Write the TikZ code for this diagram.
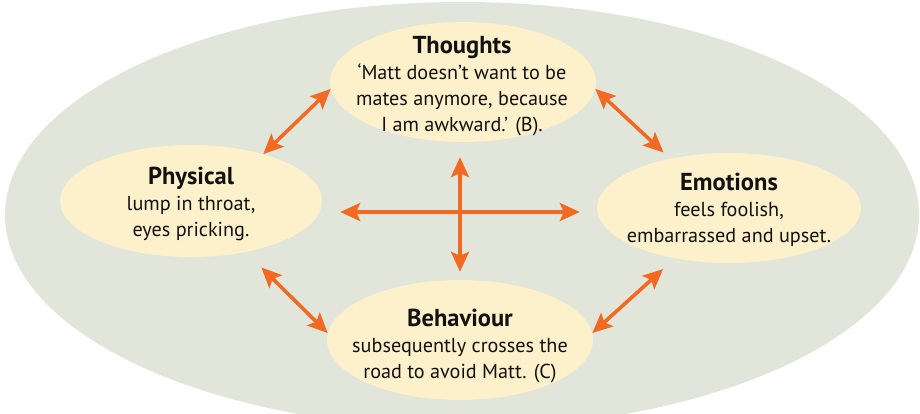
\documentclass[tikz,border=0pt]{standalone}
\usepackage{fontspec}
\setmainfont{PT Sans}
\usetikzlibrary{arrows.meta,shapes.geometric,calc}
\definecolor{bgsage}{HTML}{E1E5DA}
\definecolor{cream}{HTML}{FDF1CC}
\definecolor{arrorange}{HTML}{F26A21}
\definecolor{inkblack}{HTML}{111111}
\newcommand{\ttlfont}{\bfseries\fontsize{24.5}{26}\selectfont}
\begin{document}
\begin{tikzpicture}[x=1pt,y=-1pt,
  bubble/.style={ellipse, fill=cream, inner sep=0pt},
  label/.style={align=center, text=inkblack, inner sep=0pt, font=\fontsize{20.2}{26}\selectfont},
  arr/.style={draw=arrorange, line width=3.6pt,
    {Stealth[length=20pt,width=18pt,inset=4pt]}-{Stealth[length=20pt,width=18pt,inset=4pt]}}]
\useasboundingbox (0,0) rectangle (920,413);
\fill[bgsage] (462,215) ellipse [x radius=457, y radius=213];

\node[bubble, minimum width=266pt, minimum height=120pt] (thoughts) at (463,82) {};
\node[bubble, minimum width=262pt, minimum height=112pt] (physical) at (191,201) {};
\node[bubble, minimum width=264pt, minimum height=110pt] (emotions) at (729,208) {};
\node[bubble, minimum width=266pt, minimum height=120pt] (behaviour) at (460,340) {};

\node[label] (tthoughts) at (462,86) {{\ttlfont Thoughts}\\‘Matt doesn’t want to be\\mates anymore, because\\I am awkward.’ (B).};
\node[label] (tphysical) at (191,204) {{\ttlfont Physical}\\lump in throat,\\eyes pricking.};
\node[label] (temotions) at (729,210) {{\ttlfont Emotions}\\feels foolish,\\embarrassed and upset.};
\node[label] (tbehaviour) at (460,346) {{\ttlfont Behaviour}\\subsequently crosses the\\road to avoid Matt. (C)};

\coordinate (mid) at (460,212);
\draw[arr] (physical.33) -- (thoughts.183);
\draw[arr, shorten >=9pt] (thoughts.-3) -- (emotions.140);
\draw[arr, shorten <=22pt] (physical.-43) -- (behaviour.177);
\draw[arr, shorten <=16pt] (emotions.223) -- (behaviour.3);
\draw[arr, shorten <=18pt, shorten >=17pt] (physical.east |- mid) -- (emotions.west |- mid);
\draw[arr, shorten <=15pt, shorten >=8pt] (thoughts.south -| mid) -- (behaviour.north -| mid);
\end{tikzpicture}
\end{document}
